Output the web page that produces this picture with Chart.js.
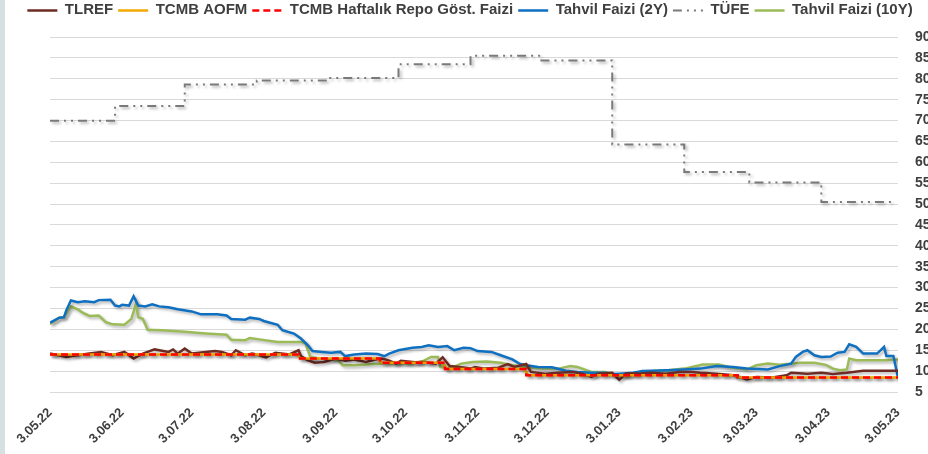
<!DOCTYPE html>
<html>
<head>
<meta charset="utf-8">
<script src="https://cdn.jsdelivr.net/npm/chart.js@4.4.1/dist/chart.umd.min.js"></script>
<style>
  html, body { margin: 0; padding: 0; overflow: hidden; background: #fff; }
  #edge { position: absolute; left: 0; top: 0; width: 5px; height: 454px; background: #d6e0e2; z-index: 2; }
  #wrap { position: absolute; left: 0; top: -3px; width: 940px; height: 457px; }
</style>
</head>
<body>
<div id="edge"></div>
<div id="wrap"><canvas id="rateChart"></canvas></div>
<script>
"use strict";

// x values are days counted from 3.05.2022
const tickDays = [0, 31, 61, 92, 123, 153, 184, 214, 245, 276, 304, 335, 365];
const tickLabels = ['3.05.22', '3.06.22', '3.07.22', '3.08.22', '3.09.22', '3.10.22', '3.11.22',
  '3.12.22', '3.01.23', '3.02.23', '3.03.23', '3.04.23', '3.05.23'];

// TLREF
const tlrefDays = [0, 7, 12, 17, 22, 27, 32, 36, 40, 45, 47, 51, 53, 55, 58, 61, 67, 71, 74, 78, 80, 84, 87, 90,
  93, 97, 103, 107, 108, 111, 114, 118, 123, 127, 131, 136, 140, 143, 146, 149, 151, 157, 161, 166, 169, 172,
  177, 181, 183, 187, 193, 197, 200, 205, 207, 213, 219, 225, 229, 233, 236, 242, 245, 248, 253, 259, 265,
  271, 276, 280, 287, 294, 300, 304, 311, 317, 319, 326, 332, 337, 343, 350, 359, 365];
const tlrefValues = [14.2, 13.4, 13.8, 14.2, 14.6, 13.8, 14.6, 13.0, 14.2, 15.2, 15.0, 14.6, 15.2, 14.2, 15.4,
  14.2, 14.6, 14.8, 14.6, 13.8, 15.0, 13.8, 14.2, 13.8, 13.3, 14.4, 14.0, 15.0, 13.6, 12.6, 12.0, 12.2, 13.0,
  12.5, 12.8, 12.2, 12.8, 13.0, 12.5, 11.8, 12.5, 12.1, 12.2, 11.8, 13.3, 11.2, 10.9, 10.6, 11.0, 10.6, 10.8,
  11.7, 11.0, 11.7, 9.8, 9.4, 9.6, 9.8, 9.4, 8.6, 9.4, 9.6, 7.9, 9.4, 9.4, 9.6, 9.4, 9.8, 9.8, 9.6, 9.4, 9.0,
  8.0, 8.6, 8.5, 9.0, 9.6, 9.4, 9.6, 9.3, 9.6, 10.1, 10.1, 10.1];

// TCMB AOFM
const aofmDays = [0, 106, 108, 141, 143, 169, 171, 204, 206, 295, 297, 365];
const aofmValues = [14, 14, 13, 13, 12, 12, 10.5, 10.5, 9, 9, 8.5, 8.5];

// TCMB haftalık repo (policy rate)
const repoDays = [0, 107, 142, 170, 205, 296, 365];
const repoValues = [14, 13, 12, 10.5, 9, 8.5, 8.5];

// Tahvil faizi 2Y
const bond2Days = [0, 4, 6, 7, 9, 12, 15, 19, 21, 26, 28, 30, 31, 34, 36, 38, 41, 44, 47, 51, 55, 61, 65, 72,
  76, 78, 84, 86, 90, 92, 98, 100, 105, 108, 111, 113, 117, 121, 125, 127, 131, 136, 141, 144, 146, 150, 156,
  160, 163, 167, 171, 174, 178, 181, 184, 190, 194, 199, 202, 205, 210, 216, 222, 227, 233, 239, 243, 245,
  251, 255, 266, 273, 280, 287, 294, 300, 309, 314, 319, 321, 324, 326, 329, 332, 336, 339, 342, 344, 347,
  350, 356, 359, 360, 363, 365];
const bond2Values = [21.6, 22.8, 22.9, 24.5, 26.9, 26.5, 26.7, 26.5, 27.0, 27.1, 25.7, 25.5, 25.9, 25.7, 27.9,
  25.7, 25.5, 26.0, 25.5, 25.3, 24.8, 24.3, 23.6, 23.6, 23.3, 22.5, 22.3, 22.8, 22.5, 22.0, 21.1, 19.8, 19.0,
  17.8, 16.2, 14.8, 14.6, 14.4, 14.6, 13.6, 14.0, 14.2, 14.1, 13.6, 14.2, 15.0, 15.6, 15.8, 16.2, 15.8, 16.0,
  15.0, 15.6, 15.5, 14.8, 14.6, 13.8, 12.8, 11.8, 11.4, 11.0, 10.9, 10.1, 9.8, 9.6, 9.6, 9.3, 9.4, 9.6, 10.0,
  10.2, 10.4, 10.6, 11.2, 11.0, 10.6, 10.4, 11.2, 11.8, 13.4, 14.6, 15.0, 13.8, 13.4, 13.5, 14.4, 14.6, 16.4,
  15.8, 14.2, 14.2, 15.8, 13.6, 13.6, 8.5];

// TÜFE (annual CPI, monthly, shown from month end)
const cpiDays = [0, 28, 58, 89, 120, 150, 181, 211, 242, 273, 301, 332, 363];
const cpiValues = [69.97, 73.5, 78.62, 79.6, 80.21, 83.45, 85.51, 84.39, 64.27, 57.68, 55.18, 50.51, 50.51];

// Tahvil faizi 10Y
const bond10Days = [0, 4, 6, 9, 12, 14, 17, 21, 24, 27, 32, 35, 37, 38, 40, 42, 48, 58, 67, 76, 78, 84, 86, 90,
  98, 108, 110, 112, 116, 124, 126, 131, 139, 146, 156, 161, 164, 167, 168, 172, 177, 182, 188, 194, 199, 205,
  212, 219, 224, 227, 233, 239, 244, 249, 254, 266, 273, 281, 288, 292, 300, 304, 309, 314, 323, 329, 334,
  337, 340, 343, 344, 347, 359, 365];
const bond10Values = [21.3, 22.8, 22.9, 25.5, 24.8, 24.0, 23.2, 23.3, 21.7, 21.2, 21.1, 22.5, 26.1, 22.9, 22.5,
  19.9, 19.8, 19.4, 19.0, 18.7, 17.5, 17.4, 17.9, 17.6, 17.0, 17.0, 16.6, 13.4, 13.0, 12.6, 11.4, 11.4, 11.7,
  11.8, 11.8, 12.5, 13.4, 13.4, 11.0, 10.6, 11.8, 12.2, 12.3, 12.0, 11.4, 11.0, 10.6, 10.6, 11.2, 11.0, 9.8,
  9.8, 9.0, 8.8, 9.8, 10.2, 10.6, 11.6, 11.6, 11.0, 10.4, 11.4, 11.8, 11.5, 12.0, 12.0, 11.5, 10.6, 10.2, 10.4,
  13.0, 12.6, 12.6, 12.8];

const FONT = '"Liberation Sans", Arial, sans-serif';

function toPoints(days, values) {
  return days.map((d, i) => ({ x: d, y: values[i] }));
}

// soft drop shadow under the lines, like the original
const lineShadow = {
  id: 'lineShadow',
  beforeDatasetDraw(chart) {
    const ctx = chart.ctx;
    ctx.save();
    ctx.shadowColor = 'rgba(0, 0, 0, 0.3)';
    ctx.shadowBlur = 3;
    ctx.shadowOffsetX = 2;
    ctx.shadowOffsetY = 2;
  },
  afterDatasetDraw(chart) {
    chart.ctx.restore();
  }
};

// legend samples drawn as short lines with the dataset's dash
const legendLines = {
  id: 'legendLines',
  afterDraw(chart) {
    const legend = chart.legend;
    if (!legend || !legend.legendHitBoxes) return;
    const ctx = chart.ctx;
    legend.legendItems.forEach((item, i) => {
      const box = legend.legendHitBoxes[i];
      const ds = chart.data.datasets[item.datasetIndex];
      const y = Math.round(box.top + box.height / 2) + 0.5;
      ctx.save();
      ctx.strokeStyle = ds.borderColor;
      ctx.lineWidth = ds.borderWidth;
      ctx.setLineDash(ds.borderDash || []);
      ctx.beginPath();
      ctx.moveTo(box.left, y);
      ctx.lineTo(box.left + 30, y);
      ctx.stroke();
      ctx.restore();
    });
  }
};

const ctx = document.getElementById('rateChart').getContext('2d');

new Chart(ctx, {
  type: 'line',
  data: {
    datasets: [
      { label: 'TLREF', data: toPoints(tlrefDays, tlrefValues), borderColor: '#6e2b24', borderWidth: 2.5,
        xAxisID: 'x', yAxisID: 'y', order: 2 },
      { label: 'TCMB AOFM', data: toPoints(aofmDays, aofmValues), borderColor: '#f2a900', borderWidth: 2.5,
        xAxisID: 'x', yAxisID: 'y', order: 1 },
      { label: 'TCMB Haftalık Repo Göst. Faizi', data: toPoints(repoDays, repoValues), borderColor: '#ff0000',
        borderWidth: 2.5, borderDash: [7, 4], stepped: true, xAxisID: 'x', yAxisID: 'y', order: 0 },
      { label: 'Tahvil Faizi (2Y)', data: toPoints(bond2Days, bond2Values), borderColor: '#0f6fc0', borderWidth: 2.5,
        xAxisID: 'x', yAxisID: 'y', order: 3 },
      { label: 'TÜFE', data: toPoints(cpiDays, cpiValues), borderColor: '#7a7a7a', borderWidth: 2,
        borderDash: [9, 5, 2, 5, 2, 5], stepped: true, xAxisID: 'x', yAxisID: 'y', order: 5 },
      { label: 'Tahvil Faizi (10Y)', data: toPoints(bond10Days, bond10Values), borderColor: '#9bbb59', borderWidth: 2.5,
        xAxisID: 'x', yAxisID: 'y', order: 4 }
    ]
  },
  options: {
    responsive: true,
    maintainAspectRatio: false,
    animation: false,
    elements: { point: { radius: 0 }, line: { tension: 0, fill: false } },
    layout: { padding: 0 },
    plugins: {
      tooltip: { enabled: false },
      legend: {
        position: 'top',
        labels: {
          usePointStyle: true,
          pointStyle: 'line',
          pointStyleWidth: 30,
          padding: 5,
          color: '#3f3f3f',
          font: { family: FONT, size: 15, weight: 'bold' },
          sort: (a, b) => a.datasetIndex - b.datasetIndex,
          generateLabels(chart) {
            return Chart.defaults.plugins.legend.labels.generateLabels(chart).map(item => {
              item.strokeStyle = 'rgba(0,0,0,0)';
              item.fillStyle = 'rgba(0,0,0,0)';
              item.lineWidth = 0;
              return item;
            });
          }
        }
      }
    },
    scales: {
      x: {
        type: 'linear',
        min: 0,
        max: 365,
        grid: { display: false, drawTicks: false },
        border: { display: false },
        afterBuildTicks(scale) {
          scale.ticks = tickDays.map(v => ({ value: v }));
        },
        afterFit(scale) { scale.height = 62; },
        ticks: {
          autoSkip: false,
          maxRotation: 45,
          minRotation: 45,
          padding: 13,
          color: '#3f3f3f',
          font: { family: FONT, size: 13, weight: 'bold' },
          callback: (value, index) => tickLabels[index]
        }
      },
      xTop: {
        type: 'linear',
        position: 'top',
        grid: { display: false, drawTicks: false },
        border: { display: false },
        ticks: { display: false },
        afterFit(scale) { scale.height = 10; }
      },
      y: {
        type: 'linear',
        position: 'right',
        min: 5,
        max: 90,
        grid: { color: '#d9d9d9', drawTicks: false },
        border: { display: false },
        afterFit(scale) { scale.width = 42; },
        ticks: {
          stepSize: 5,
          padding: 17,
          color: '#3f3f3f',
          font: { family: FONT, size: 14, weight: 'bold' }
        }
      },
      yLeft: {
        type: 'linear',
        position: 'left',
        grid: { display: false, drawTicks: false },
        border: { display: false },
        ticks: { display: false },
        afterFit(scale) { scale.width = 50; }
      }
    }
  },
  plugins: [lineShadow, legendLines]
});
</script>
</body>
</html>
